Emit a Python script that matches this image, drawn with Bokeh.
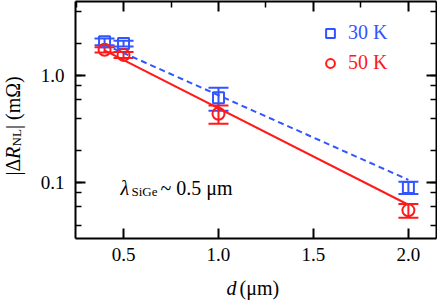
import numpy as np
from bokeh.plotting import figure
from bokeh.layouts import row, column
from bokeh.models import (Range1d, LinearAxis, LogAxis, FixedTicker, Whisker, TeeHead,
                          ColumnDataSource, Label, Legend, LegendItem, CustomJSTickFormatter,
                          LogTicker)
from bokeh.embed import file_html
from bokeh.resources import INLINE

# ---- data ----
d_30K = [0.4, 0.5, 1.0, 2.0]
r_30K = [2.07, 1.99, 0.62, 0.090]
e_30K = [0.15, 0.12, 0.15, 0.012]
d_50K = [0.4, 0.5, 1.0, 2.0]
r_50K = [1.74, 1.56, 0.44, 0.055]
e_50K = [0.10, 0.10, 0.085, 0.008]
fit_d = [0.4, 2.0]
fit_30K = [1.95, 0.106]
fit_50K = [1.72, 0.062]
x_ticks = [0.5, 1.0, 1.5, 2.0]
x_minor = [0.25, 0.75, 1.25, 1.75]

BLUE = "#3355ff"
RED = "#ff1a1a"
FONT = "Liberation Serif"

YLAB_W = 30      # width of the strip holding the y-axis title
XLAB_H = 25      # height of the strip holding the x-axis title
W, H = 437, 300
BL = 6           # baseline correction for Label text

p = figure(width=W - YLAB_W, height=H - XLAB_H, y_axis_type="log",
           x_range=Range1d(0.247, 2.148), y_range=Range1d(0.0300, 4.92),
           output_backend="svg", toolbar_location=None,
           min_border_left=75 - YLAB_W, min_border_right=1, min_border_top=1,
           min_border_bottom=(H - XLAB_H) - 238)
p.grid.visible = False
p.outline_line_color = None
p.background_fill_color = "white"

def style_axis(ax, labels=True, minor=True):
    ax.axis_line_width = 2
    ax.axis_line_color = "black"
    ax.major_tick_in = 10
    ax.major_tick_out = 0
    ax.major_tick_line_width = 2
    ax.minor_tick_in = 6 if minor else 0
    ax.minor_tick_out = 0
    ax.minor_tick_line_width = 1.5
    if not minor:
        ax.minor_tick_line_color = None
    ax.major_label_text_font = FONT
    ax.major_label_text_font_size = "19px"
    ax.major_label_text_color = "black"
    if not labels:
        ax.formatter = CustomJSTickFormatter(code="return ''")
        ax.major_label_standoff = 0
        ax.major_label_text_font_size = "0px"

# bottom x axis
xa = p.xaxis[0]
xa.ticker = FixedTicker(ticks=x_ticks)
style_axis(xa, minor=False)
xa.major_label_standoff = 9
xa.major_label_overrides = {0.5: "0.5", 1.0: "1.0", 1.5: "1.5", 2.0: "2.0"}

# left y axis
ya = p.yaxis[0]
ya.ticker = LogTicker(desired_num_ticks=3)
style_axis(ya)
ya.major_label_standoff = 11
ya.major_label_overrides = {0.1: "0.1", 1: "1.0", 1.0: "1.0"}

# top and right axes (ticks only)
top = LinearAxis(ticker=FixedTicker(ticks=x_ticks, minor_ticks=x_minor))
style_axis(top, labels=False)
p.add_layout(top, "above")
right = LogAxis(ticker=LogTicker())
style_axis(right, labels=False)
p.add_layout(right, "right")

# fits
p.line(fit_d, fit_30K, color=BLUE, line_width=2, line_dash="6 4")
p.line(fit_d, fit_50K, color=RED, line_width=2)

# error bars
src30 = ColumnDataSource(dict(x=d_30K, y=r_30K,
                              lo=[a - b for a, b in zip(r_30K, e_30K)],
                              hi=[a + b for a, b in zip(r_30K, e_30K)]))
src50 = ColumnDataSource(dict(x=d_50K, y=r_50K,
                              lo=[a - b for a, b in zip(r_50K, e_50K)],
                              hi=[a + b for a, b in zip(r_50K, e_50K)]))
for src, col in ((src30, BLUE), (src50, RED)):
    w = Whisker(source=src, base="x", lower="lo", upper="hi", dimension="height",
                line_color=col, line_width=2,
                upper_head=TeeHead(size=20, line_color=col, line_width=2),
                lower_head=TeeHead(size=20, line_color=col, line_width=2))
    p.add_layout(w)

s30 = p.scatter("x", "y", source=src30, marker="square", size=11, fill_color=None,
                line_color=BLUE, line_width=2)
s50 = p.scatter("x", "y", source=src50, marker="circle", size=12, fill_color=None,
                line_color=RED, line_width=2)

# legends
for item_r, lbl, col, yy in ((s30, "30 K", BLUE, 194), (s50, "50 K", RED, 164)):
    lg = Legend(items=[LegendItem(label=lbl, renderers=[item_r])],
                location=(244, yy), label_text_font=FONT, label_text_font_size="20px",
                label_text_color=col, background_fill_alpha=0, border_line_color=None,
                glyph_width=22, glyph_height=22, padding=0, margin=0, label_standoff=7)
    p.add_layout(lg)

def lab(fig, x, y, text, size="20px", style="normal", angle=0.0):
    fig.add_layout(Label(x=x, y=y, x_units="canvas", y_units="canvas", text=text,
                         text_font=FONT, text_font_style=style, text_font_size=size,
                         text_color="black", text_baseline="alphabetic", text_align="left",
                         angle=angle))

def text_strip(w, h):
    f = figure(width=w, height=h, output_backend="svg", toolbar_location=None,
               x_axis_location=None, y_axis_location=None, min_border=0,
               x_range=Range1d(0, 1), y_range=Range1d(0, 1))
    f.grid.visible = False
    f.outline_line_color = None
    return f

# annotation inside the plot (page x - YLAB_W)
ox = YLAB_W
lab(p, 120 - ox, 193 - BL, "λ", style="italic")
lab(p, 131 - ox, 197 - BL, "SiGe", size="13px")
lab(p, 160 - ox, 193 - BL, "~ 0.5 μm")

# x axis title strip
xs = text_strip(W - YLAB_W, XLAB_H)
oy = H - XLAB_H
lab(xs, 226 - ox, 293 - oy - BL, "d", style="italic")
lab(xs, 239 - ox, 293 - oy - BL, "(μm)")

# y axis title strip (rotated, reading upward)
ys = text_strip(YLAB_W, H)
A = np.pi / 2
lab(ys, 18 - BL, 175, "|Δ", angle=A)
lab(ys, 18 - BL, 158.5, "R", style="italic", angle=A)
lab(ys, 22 - BL, 146, "NL", size="13px", angle=A)
lab(ys, 18 - BL, 128.5, "| (mΩ)", angle=A)

layout = row(ys, column(p, xs, spacing=0), spacing=0)
open("out.html", "w").write(file_html(layout, INLINE))
